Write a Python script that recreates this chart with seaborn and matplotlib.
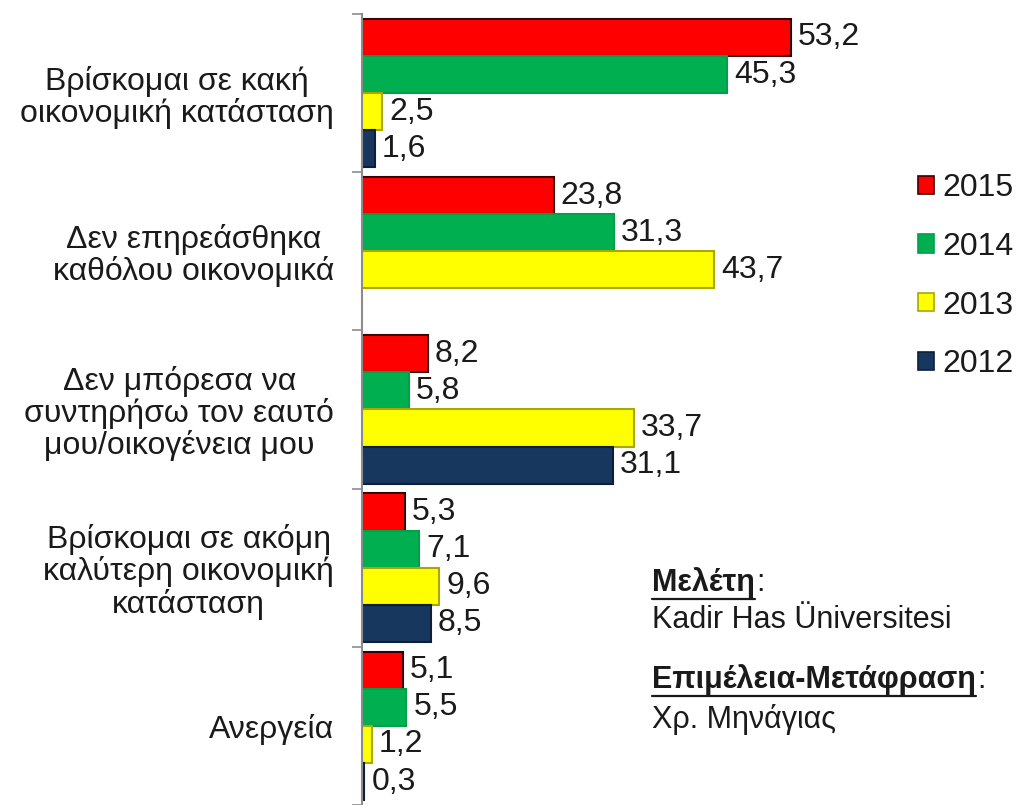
import numpy as np
import pandas as pd
import matplotlib
matplotlib.use("Agg")
import matplotlib.pyplot as plt
import seaborn as sns
from matplotlib.patches import Patch

categories = [
    "Βρίσκομαι σε κακή\nοικονομική κατάσταση",
    "Δεν επηρεάσθηκα\nκαθόλου οικονομικά",
    "Δεν μπόρεσα να\nσυντηρήσω τον εαυτό\nμου/οικογένεια μου",
    "Βρίσκομαι σε ακόμη\nκαλύτερη οικονομική\nκατάσταση",
    "Ανεργεία",
]
years = ["2015", "2014", "2013", "2012"]
v2015 = [53.2, 23.8, 8.2, 5.3, 5.1]
v2014 = [45.3, 31.3, 5.8, 7.1, 5.5]
v2013 = [2.5, 43.7, 33.7, 9.6, 1.2]
v2012 = [1.6, np.nan, 31.1, 8.5, 0.3]

colors = ["#ff0000", "#00b050", "#ffff00", "#17375e"]
edges = ["#3a0000", "#00a048", "#a8a800", "#0d1f38"]

df = pd.DataFrame({
    "category": categories * 4,
    "year": sum([[y] * len(categories) for y in years], []),
    "value": v2015 + v2014 + v2013 + v2012,
})

sns.set_theme(style="white")
plt.rcParams["font.family"] = ["Liberation Sans", "DejaVu Sans"]
txt = "#1a1a1a"

fig = plt.figure(figsize=(10.31, 8.05), dpi=100)
ax = fig.add_axes([362 / 1031, 0, 669 / 1031, 791 / 805])

sns.barplot(data=df, y="category", x="value", hue="year", hue_order=years,
            order=categories, palette=colors, saturation=1, orient="h",
            width=0.94, errorbar=None, legend=False, ax=ax)

for cont, ec in zip(ax.containers, edges):
    for p in cont.patches:
        p.set_edgecolor(ec)
        p.set_linewidth(1.5)
    labels = ["" if np.isnan(v) else f"{v:.1f}".replace(".", ",")
              for v in cont.datavalues]
    ax.bar_label(cont, labels=labels, padding=5, fontsize=23, color=txt)

ax.set_xlim(0, 83)
ax.set_ylim(len(categories) - 0.5, -0.5)
ax.set_xlabel("")
ax.set_ylabel("")
ax.set_xticks([])
for s in ["top", "right", "bottom"]:
    ax.spines[s].set_visible(False)
ax.spines["left"].set_color("#8c8c8c")
ax.spines["left"].set_linewidth(1.5)

ax.set_yticks(np.arange(len(categories)))
ax.set_yticklabels(categories, fontsize=23, color=txt, ha="right",
                   multialignment="center", linespacing=1.05)
ax.tick_params(axis="y", which="major", length=0, pad=20)
ax.set_yticks(np.arange(len(categories) + 1) - 0.5, minor=True)
ax.tick_params(axis="y", which="minor", length=7, width=1.2,
               color="#8c8c8c", left=True)

handles = [Patch(facecolor=c, edgecolor=e, linewidth=1.2)
           for c, e in zip(colors, edges)]
fig.legend(handles, years, loc="upper left",
           bbox_to_anchor=(918 / 1031, 1 - 173 / 805), frameon=False,
           fontsize=23, handlelength=0.5, handleheight=0.5,
           handletextpad=0.25, labelspacing=0.9, borderpad=0,
           borderaxespad=0, labelcolor=txt)

# source notes
fig.canvas.draw()
rend = fig.canvas.get_renderer()
notes = [
    ("Μελέτη", True, 583),
    ("Kadir Has Üniversitesi", False, 620),
    ("Επιμέλεια-Μετάφραση", True, 680),
    ("Χρ. Μηνάγιας", False, 719),
]
x0 = 652
for s, bold, yc in notes:
    t = fig.text(x0 / 1031, 1 - yc / 805, s, fontsize=22, color=txt,
                 fontweight="bold" if bold else "normal", va="center",
                 ha="left")
    if bold:
        bb = t.get_window_extent(rend)
        fig.add_artist(plt.Line2D([bb.x0 / 1031, bb.x1 / 1031],
                                  [(bb.y0 - 1) / 805, (bb.y0 - 1) / 805],
                                  color=txt, linewidth=1.6))
        fig.text((bb.x1 + 1) / 1031, 1 - yc / 805, ":", fontsize=22,
                 color=txt, va="center", ha="left")

fig.savefig("out.png", dpi=100, facecolor="white")
